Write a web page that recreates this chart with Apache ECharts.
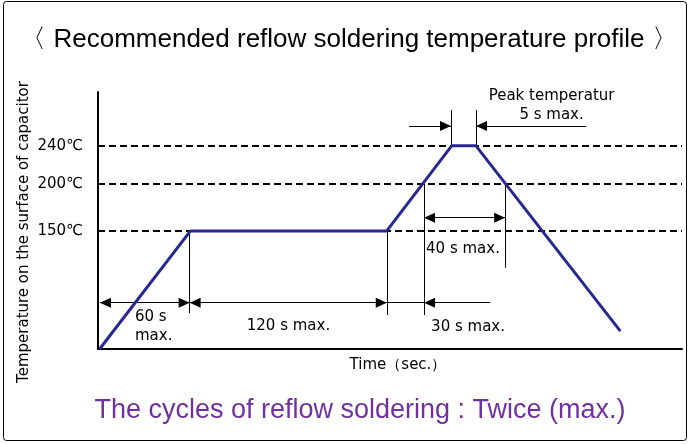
<!DOCTYPE html>
<html>
<head>
<meta charset="utf-8">
<script src="https://cdn.jsdelivr.net/npm/echarts@6/dist/echarts.min.js"></script>
<style>
html,body{margin:0;padding:0;background:#fff;}
#chart{width:690px;height:444px;}
</style>
</head>
<body>
<div id="chart"></div>
<script>
// ---- data (time axis in schematic seconds, temperature in °C) ----
const profileTime = [1, 57, 178, 218, 233, 322];
const profileTemp = [25, 150, 150, 240, 240, 44];
const refTemps = [150, 200, 240];
const tickUnit = '℃';

// vertical guide lines: time, fromTemp, toTemp
const guideTime = [56.5, 178, 201, 251, 217.6, 233];
const guideFrom = [150, 150, 200, 200, 240, 240];
const guideTo   = [63, 61, 61, 111, 278, 278];

// dimension lines: fromTime, toTime, temp, arrows at start / end
const dimFrom  = [1.2, 56.5, 178, 241.7, 201, 191.7, 300.9];
const dimTo    = [56.5, 178, 201, 201, 251, 217.6, 233];
const dimTemp  = [74, 74, 74, 74, 164, 261, 261];
const dimArrowStart = [true, true, false, false, true, false, false];
const dimArrowEnd   = [true, true, false, true, true, true, true];

// annotation texts
const noteText = ['Peak temperatur\n5 s max.', '40 s max.', '120 s max.', '30 s max.', '60 s\nmax.'];
const noteTime = [279.6, 225, 117.4, 228.1, 22.8];
const noteTemp = [282.7, 130.8, 49.3, 48.3, 48.3];
const noteAlign = ['center', 'center', 'center', 'center', 'left'];

const titleText = '〈 Recommended reflow soldering temperature profile 〉';
const footText = 'The cycles of reflow soldering : Twice (max.)';
const yName = 'Temperature on the surface of capacitor';
const xName = 'Time（sec.）';

// ---- build ----
const chart = echarts.init(document.getElementById('chart'), null, {renderer: 'canvas'});
const SMALL = 'DejaVu Sans';
const arrowH = 11, arrowW = 10;
function endPt(t, temp, hasArrow) {
  const p = {coord: [t, temp]};
  if (hasArrow) {
    p.symbol = 'triangle';
    p.symbolSize = [arrowW, arrowH];
    p.symbolOffset = [0, arrowH / 2];
  } else {
    p.symbol = 'none';
  }
  return p;
}
const markData = [];
refTemps.forEach(v => markData.push({
  yAxis: v,
  lineStyle: {type: [7, 4], width: 2, color: '#000'}
}));
guideTime.forEach((t, i) => markData.push([
  {coord: [t, guideFrom[i]], symbol: 'none', lineStyle: {type: 'solid', width: 1, color: '#000'}},
  {coord: [t, guideTo[i]], symbol: 'none'}
]));
dimFrom.forEach((f, i) => {
  const a = endPt(f, dimTemp[i], dimArrowStart[i]);
  a.lineStyle = {type: 'solid', width: 1, color: '#000'};
  markData.push([a, endPt(dimTo[i], dimTemp[i], dimArrowEnd[i])]);
});

const option = {
  animation: false,
  grid: {left: 98, right: 8, top: 92, bottom: 95},
  xAxis: {
    type: 'value', min: 0, max: 360,
    axisLine: {show: true, onZero: false, lineStyle: {color: '#000', width: 2}},
    axisTick: {show: false}, axisLabel: {show: false}, splitLine: {show: false}
  },
  yAxis: {
    type: 'value', min: 25, max: 297,
    axisLine: {show: true, onZero: false, lineStyle: {color: '#000', width: 2}},
    axisTick: {show: false}, splitLine: {show: false},
    axisLabel: {
      show: true, customValues: refTemps, margin: 15,
      formatter: v => v + tickUnit,
      color: '#000', fontFamily: SMALL, fontSize: 15
    }
  },
  series: [
    {
      type: 'line', name: 'profile',
      data: profileTime.map((t, i) => [t, profileTemp[i]]),
      symbol: 'none', z: 3,
      lineStyle: {color: '#282891', width: 3},
      markLine: {
        silent: true, z: 2,
        symbol: ['none', 'none'],
        label: {show: false},
        emphasis: {disabled: true},
        data: markData
      }
    },
    {
      type: 'scatter', name: 'notes', symbolSize: 0, silent: true,
      itemStyle: {opacity: 1},
      data: noteText.map((s, i) => ({
        value: [noteTime[i], noteTemp[i]],
        label: {align: noteAlign[i]}
      })),
      label: {
        show: true, position: 'inside',
        formatter: p => noteText[p.dataIndex],
        color: '#000', fontFamily: SMALL, fontSize: 15, lineHeight: 19,
        verticalAlign: 'middle'
      }
    }
  ],
  graphic: [
    {type: 'rect', shape: {x: 3.5, y: 1.5, width: 683, height: 439, r: 3},
     style: {fill: 'none', stroke: '#000', lineWidth: 1}, silent: true},
    {type: 'text', x: 349, y: 40, style: {text: titleText, font: '26px "Liberation Sans"', fill: '#000', align: 'center', verticalAlign: 'middle'}},
    {type: 'text', x: 360, y: 411, style: {text: footText, font: '27px "Liberation Sans"', fill: '#7030A0', align: 'center', verticalAlign: 'middle'}},
    {type: 'text', x: 398, y: 365, style: {text: xName, font: '15px "DejaVu Sans"', fill: '#000', align: 'center', verticalAlign: 'middle'}},
    {type: 'text', x: 24, y: 232, rotation: Math.PI / 2, style: {text: yName, font: '15px "DejaVu Sans"', fill: '#000', align: 'center', verticalAlign: 'middle'}}
  ]
};
chart.setOption(option);
</script>
</body>
</html>
